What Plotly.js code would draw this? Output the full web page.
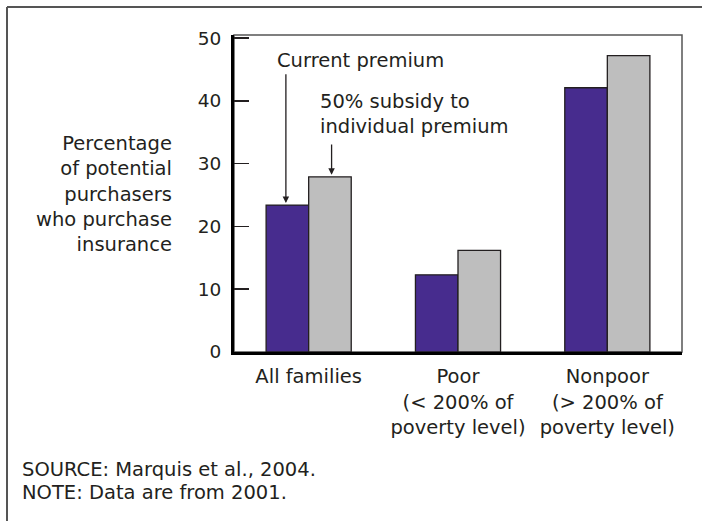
<!DOCTYPE html>
<html>
<head>
<meta charset="utf-8">
<script src="https://cdn.plot.ly/plotly-3.0.1.min.js"></script>
<style>html,body{margin:0;padding:0;background:#fff;}#chart{width:702px;height:521px;}</style>
</head>
<body>
<div id="chart"></div>
<script>
var categories = ["All families", "Poor<br>(< 200% of<br>poverty level)", "Nonpoor<br>(> 200% of<br>poverty level)"];
var currentPremium = [23.4, 12.3, 42.1];
var subsidyPremium = [27.9, 16.2, 47.2];
var yTickVals = [0, 10, 20, 30, 40, 50];
var seriesNames = ["Current premium", "50% subsidy to<br>individual premium"];
var yTitle = "Percentage<br>of potential<br>purchasers<br>who purchase<br>insurance";
var notes = ["SOURCE: Marquis et al., 2004.", "NOTE: Data are from 2001."];

var FONT = "DejaVu Sans, sans-serif";
var TXT = "#231f20";
var FS = 19.5;
var bargap = 0.43;
var bw = (1 - bargap) / 2;
var half = bw / 2;

var traces = [
  {type: "bar", x: [0, 1, 2], y: currentPremium, name: seriesNames[0], width: bw, offset: -bw,
   marker: {color: "#472c8e", line: {color: "#231f20", width: 1.3}}, hoverinfo: "none"},
  {type: "bar", x: [0, 1, 2], y: subsidyPremium, name: seriesNames[1], width: bw, offset: 0,
   marker: {color: "#bebebe", line: {color: "#231f20", width: 1.3}}, hoverinfo: "none"}
];

var layout = {
  width: 702, height: 521,
  margin: {l: 234, r: 20, t: 35, b: 169},
  paper_bgcolor: "#fff", plot_bgcolor: "#fff",
  showlegend: false,
  font: {family: FONT, size: FS, color: TXT},
  xaxis: {
    range: [-0.5, 2.5], tickmode: "array", tickvals: [0, 1, 2], ticktext: categories,
    showgrid: false, zeroline: false, showline: true, linecolor: "#000", linewidth: 3,
    ticks: "", ticklabelstandoff: 5, tickfont: {size: FS, color: TXT}, fixedrange: true
  },
  yaxis: {
    range: [0, 50.5], tickmode: "array", tickvals: yTickVals,
    showgrid: false, zeroline: false, showline: true, linecolor: "#000", linewidth: 3,
    ticks: "inside", ticklen: 15, tickwidth: 1.5, tickcolor: "#231f20",
    tickfont: {size: 18.5, color: TXT}, ticklabelstandoff: 6, fixedrange: true
  },
  shapes: [
    {type: "rect", xref: "paper", yref: "paper", x0: 0, x1: 1, y0: 0, y1: 1, line: {color: "#555", width: 1.5}, layer: "below"},
    {type: "line", xref: "paper", yref: "paper", x0: (7 - 234) / 448, x1: (702 - 234) / 448, y0: (352 - 7) / 317, y1: (352 - 7) / 317, line: {color: "#555", width: 2}},
    {type: "line", xref: "paper", yref: "paper", x0: (7 - 234) / 448, x1: (7 - 234) / 448, y0: (352 - 7) / 317, y1: (352 - 525) / 317, line: {color: "#555", width: 2}}
  ],
  annotations: [
    {xref: "paper", yref: "paper", x: (174 - 234) / 448, y: (352 - 194) / 317, xanchor: "right", yanchor: "middle", align: "right",
     showarrow: false, text: yTitle},
    {xref: "x", yref: "y", x: -0.226, y: 46.5, xanchor: "left", yanchor: "middle", align: "left", showarrow: false,
     text: seriesNames[0]},
    {xref: "x", yref: "y", x: 0.062, y: 37.9, xanchor: "left", yanchor: "middle", align: "left", showarrow: false,
     text: seriesNames[1]},
    {xref: "x", yref: "y", x: -half - 0.01, y: currentPremium[0], axref: "x", ayref: "y", ax: -half - 0.01, ay: 44.5,
     showarrow: true, arrowhead: 2, arrowsize: 1, arrowwidth: 1.3, arrowcolor: "#231f20", standoff: 2, text: ""},
    {xref: "x", yref: "y", x: half + 0.011, y: subsidyPremium[0], axref: "x", ayref: "y", ax: half + 0.011, ay: 33.3,
     showarrow: true, arrowhead: 2, arrowsize: 1, arrowwidth: 1.3, arrowcolor: "#231f20", standoff: 2, text: ""},
    {xref: "paper", yref: "paper", x: (20 - 234) / 448, y: (352 - 470) / 317, xanchor: "left", yanchor: "middle", align: "left",
     showarrow: false, text: notes[0]},
    {xref: "paper", yref: "paper", x: (20 - 234) / 448, y: (352 - 493) / 317, xanchor: "left", yanchor: "middle", align: "left",
     showarrow: false, text: notes[1]}
  ]
};

Plotly.newPlot("chart", traces, layout, {displayModeBar: false, staticPlot: true});
</script>
</body>
</html>
